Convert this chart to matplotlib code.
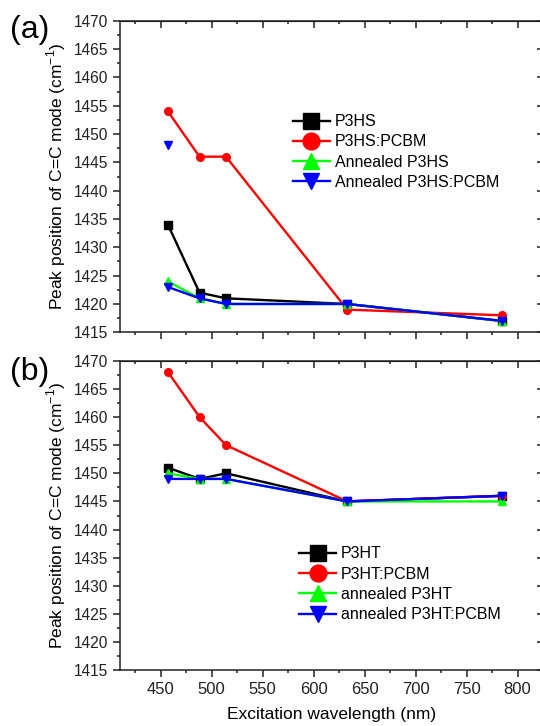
import matplotlib
matplotlib.use('Agg')
import matplotlib.pyplot as plt
from matplotlib.ticker import MultipleLocator

plt.rcParams['font.family'] = ['Liberation Sans', 'DejaVu Sans']
plt.rcParams['mathtext.fontset'] = 'custom'
plt.rcParams['mathtext.rm'] = 'Liberation Sans'

# excitation wavelengths (nm)
wavelength = [457, 488, 514, 633, 785]

# panel (a): P3HS films
p3hs = [1434, 1422, 1421, 1420, 1417]
p3hs_pcbm = [1454, 1446, 1446, 1419, 1418]
ann_p3hs = [1424, 1421, 1420, 1420, 1417]
ann_p3hs_pcbm = [1423, 1421, 1420, 1420, 1417]
stray_x = [457]
stray_y = [1448]

# panel (b): P3HT films
p3ht = [1451, 1449, 1450, 1445, 1446]
p3ht_pcbm = [1468, 1460, 1455, 1445, 1446]
ann_p3ht = [1450, 1449, 1449, 1445, 1445]
ann_p3ht_pcbm = [1449, 1449, 1449, 1445, 1446]

labels_a = ['P3HS', 'P3HS:PCBM', 'Annealed P3HS', 'Annealed P3HS:PCBM']
labels_b = ['P3HT', 'P3HT:PCBM', 'annealed P3HT', 'annealed P3HT:PCBM']

colors = ['black', '#ff0000', '#00ff00', '#0000ff']
markers = ['s', 'o', '^', 'v']

fig = plt.figure(figsize=(5.4, 7.26), dpi=100)
W, H = 540, 726


def make_axes(top_px, bottom_px):
    left_px, right_px = 120, 544
    return fig.add_axes([left_px / W, 1 - bottom_px / H,
                         (right_px - left_px) / W, (bottom_px - top_px) / H])


def style_axes(ax):
    ax.set_xlim(410, 826)
    ax.set_ylim(1415, 1470)
    ax.xaxis.set_major_locator(MultipleLocator(50))
    ax.xaxis.set_minor_locator(MultipleLocator(25))
    ax.yaxis.set_major_locator(MultipleLocator(5))
    ax.yaxis.set_minor_locator(MultipleLocator(2.5))
    ax.tick_params(which='both', direction='out', width=1.1,
                   top=False, right=False, colors='#222222')
    ax.tick_params(axis='y', labelsize=11.2)
    ax.tick_params(axis='x', labelsize=12)
    ax.tick_params(which='major', length=5)
    ax.tick_params(which='minor', length=2.5)
    for s in ax.spines.values():
        s.set_linewidth(1.1)
        s.set_color('#222222')
    top = ax.secondary_xaxis('top')
    top.xaxis.set_major_locator(MultipleLocator(50))
    top.xaxis.set_minor_locator(MultipleLocator(25))
    top.tick_params(which='both', direction='in', width=1.1, labeltop=False, colors='#222222')
    top.tick_params(which='major', length=5)
    top.tick_params(which='minor', length=2.5)
    right = ax.secondary_yaxis('right')
    right.yaxis.set_major_locator(MultipleLocator(5))
    right.yaxis.set_minor_locator(MultipleLocator(2.5))
    right.tick_params(which='both', direction='in', width=1.1, labelright=False, colors='#222222')
    right.tick_params(which='major', length=5)
    right.tick_params(which='minor', length=2.5)
    ax.set_ylabel('Peak position of C=C mode (cm$^{-1}$)', fontsize=12.5)


def draw(ax, series, labels, anchor):
    for ys, lab, c, m in zip(series, labels, colors, markers):
        ax.plot(wavelength, ys, color=c, marker=m, markersize=5.5, linewidth=1.7, label=lab)
    ax.legend(loc='upper left', bbox_to_anchor=anchor, frameon=False, fontsize=11.5,
              markerscale=2.2, handlelength=2.3, handletextpad=0.3,
              labelspacing=0.33, borderpad=0, borderaxespad=0)


ax1 = make_axes(20.7, 332.3)
style_axes(ax1)
draw(ax1, [p3hs, p3hs_pcbm, ann_p3hs, ann_p3hs_pcbm], labels_a, (0.408, 0.70))
ax1.plot(stray_x, stray_y, linestyle='none', marker='v', markersize=5.5, color=colors[3])
ax1.tick_params(axis='x', labelbottom=False)

ax2 = make_axes(360.7, 670.3)
style_axes(ax2)
draw(ax2, [p3ht, p3ht_pcbm, ann_p3ht, ann_p3ht_pcbm], labels_b, (0.423, 0.40))
ax2.set_xlabel('Excitation wavelength (nm)', fontsize=12.5, labelpad=7)

fig.text(10 / W, 1 - 30 / H, '(a)', fontsize=23, va='center', ha='left')
fig.text(10 / W, 1 - 372 / H, '(b)', fontsize=23, va='center', ha='left')

fig.savefig('out.png', dpi=100)
